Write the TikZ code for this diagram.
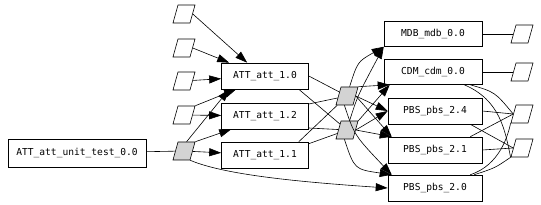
\documentclass[tikz,border=0pt]{standalone}
\usepackage{fontspec}
\setmonofont{DejaVu Sans Mono}
\usetikzlibrary{arrows.meta,calc}
\definecolor{relleno}{HTML}{D3D3D3}

\begin{document}
\begin{tikzpicture}[x=1pt, y=-1pt, line width=0.6pt,
  every node/.style={font=\ttfamily\fontsize{9.6}{11}\selectfont},
  caja/.style={draw, inner sep=0pt, minimum height=26pt},
  para/.style={draw, fill=white, inner sep=0pt, minimum width=17pt, minimum height=18pt, xslant=0.28, transform shape},
  gpara/.style={para, fill=relleno},
  flecha/.style={-{Triangle[length=12pt,width=8pt]}}]
\useasboundingbox (0,0) rectangle (541,205);

% ================= izquierda =================
\node[caja, minimum width=138pt, minimum height=28pt] (ut) at (77,153) {ATT\_att\_unit\_test\_0.0};
\node[gpara] (g0) at (184,151) {};
\node[para] (p1) at (184,14) {};
\node[para] (p2) at (184,48) {};
\node[para] (p3) at (184,81) {};
\node[para] (p4) at (184,115) {};

% cajas ATT
\node[caja, minimum width=87pt] (a10) at (265,76) {ATT\_att\_1.0};
\node[caja, minimum width=87pt] (a12) at (265,116) {ATT\_att\_1.2};
\node[caja, minimum width=87pt] (a11) at (265,155) {ATT\_att\_1.1};

% ================= centro =================
\node[gpara] (ga) at (347,96) {};
\node[gpara] (gb) at (347,130) {};

% cajas de salida
\node[caja, minimum width=98pt, minimum height=25pt] (mdb) at (433,34) {MDB\_mdb\_0.0};
\node[caja, minimum width=98pt, minimum height=25pt] (cdm) at (433,72) {CDM\_cdm\_0.0};
\node[caja, minimum width=94pt] (p24) at (435,111) {PBS\_pbs\_2.4};
\node[caja, minimum width=94pt] (p21) at (435,150) {PBS\_pbs\_2.1};
\node[caja, minimum width=94pt] (p20) at (435,188) {PBS\_pbs\_2.0};

% ================= derecha =================
\node[para] (r1) at (522,34) {};
\node[para] (r2) at (522,72) {};
\node[para] (r3) at (522,114) {};
\node[para] (r4) at (522,148) {};

% ================= conexiones =================
\draw (ut) -- (g0);
\draw[flecha] (g0) -- (a11);
\draw[flecha] (g0.north east) -- ($(a12.south west)+(10,0)$);
\draw[flecha] (g0.north) -- ($(a10.south west)+(8,0)$);
\draw[flecha] (g0.south east) .. controls (225,175) and (300,182) .. (p20.west);
\draw[flecha] (p1.east) -- ($(a10.north west)+(26,0)$);
\draw[flecha] (p2.east) -- ($(a10.north west)+(8,0)$);
\draw[flecha] (p3) -- (a10);
\draw[flecha] (p4) -- (a12);
\draw[flecha] (p4.north east) -- ($(a10.south west)+(15,0)$);

% ATT -> nodos grises
\draw (a10.east) -- (ga);
\draw ($(a10.south east)+(-10,0)$) -- (gb);
\draw ($(a12.east)+(0,-12)$) -- (ga);
\draw ($(a12.east)+(0,12)$) -- (gb);
\draw ($(a11.north east)+(-10,0)$) -- (ga);
\draw ($(a11.north east)+(0,2)$) -- (gb);

% nodos grises -> salidas
\foreach \g in {ga,gb}{
  \draw[flecha] (\g.north) .. controls +(8,-25) .. (mdb.south west);
  \draw[flecha] (\g.north east) -- ($(cdm.south west)+(6,0)$);
  \draw[flecha] (\g.east) -- (p24.west);
  \draw[flecha] (\g.east) -- ($(p21.north west)+(4,0)$);
  \draw[flecha] (\g.south) .. controls +(10,30) .. ($(p20.north west)+(4,0)$);
}

% salidas -> paralelogramos derechos
\draw (mdb) -- (r1);
\draw (cdm) -- (r2);
\draw ($(cdm.south east)+(-12,0)$) .. controls (495,92) .. (r3.west);
\draw ($(cdm.south east)+(-18,0)$) .. controls (500,100) and (505,130) .. (r4.south west);
\draw (p24.east) -- (r3.west);
\draw ($(p24.south east)+(-12,0)$) -- (r4.west);
\draw (p21.east) -- (r4.west);
\draw ($(p21.north east)+(-12,0)$) -- (r3.west);
\draw ($(p20.north east)+(-12,0)$) .. controls (500,165) and (508,135) .. (r3.south west);
\draw ($(p20.north east)+(-8,0)$) .. controls (495,168) .. (r4.south west);
\end{tikzpicture}
\end{document}
